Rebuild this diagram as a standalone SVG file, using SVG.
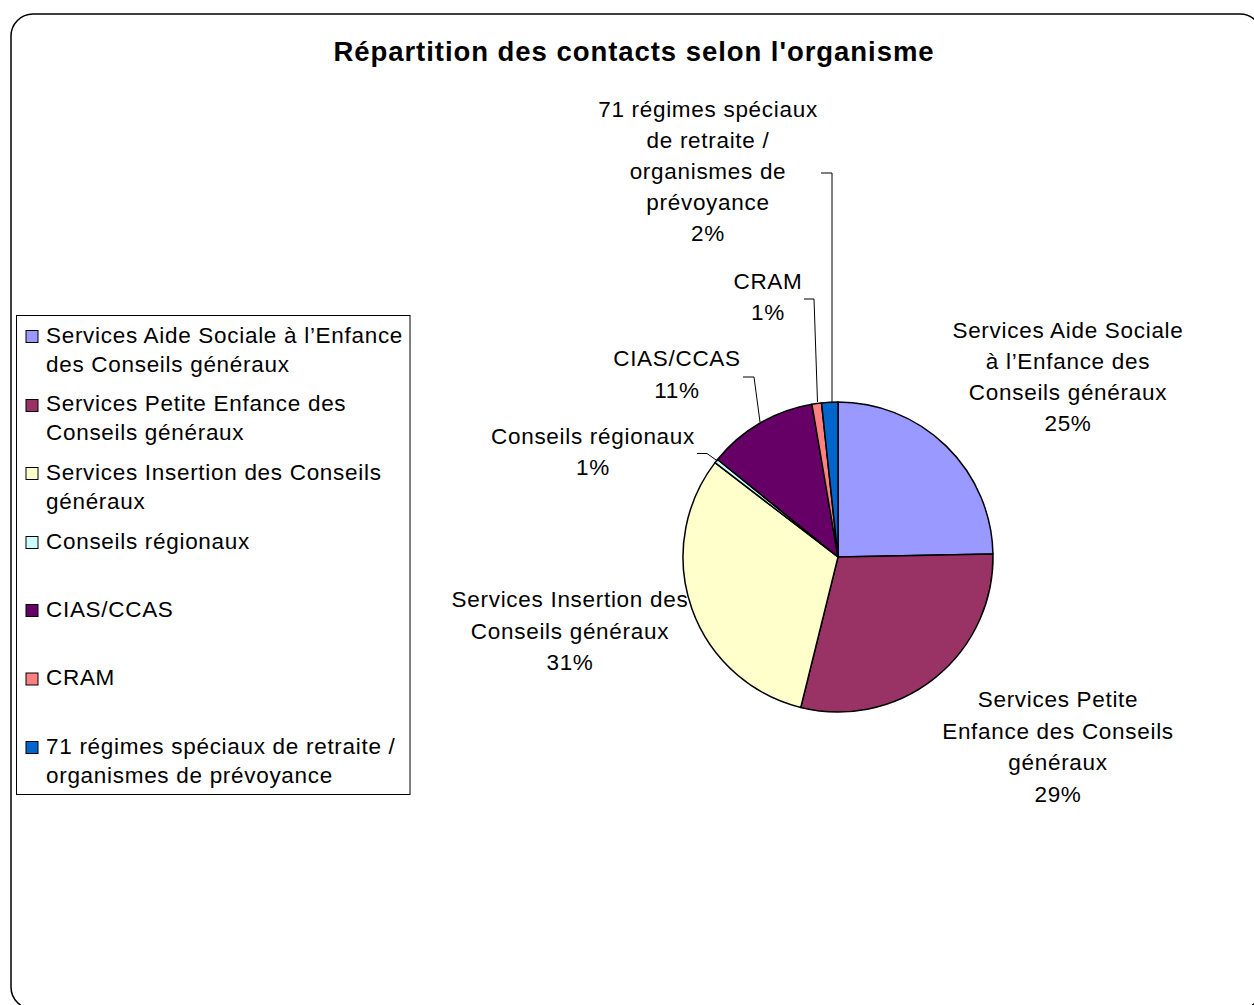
<svg xmlns="http://www.w3.org/2000/svg" width="1254" height="1005" viewBox="0 0 1254 1005">
<style>
text{font-family:"Liberation Sans",Arial,sans-serif;fill:#000}
.t{font-size:27.5px;font-weight:bold;letter-spacing:0.95px;text-anchor:middle}
.l{font-size:22.5px;letter-spacing:0.7px;text-anchor:middle}
.g{font-size:22.5px;letter-spacing:0.7px}
.s{stroke:#000;stroke-width:1.5;stroke-linejoin:round}
.m{stroke:#000;stroke-width:1}
.c{fill:none;stroke:#000;stroke-width:1}
</style>
<rect x="0" y="0" width="1254" height="1005" fill="#fff"/>
<rect x="11" y="14" width="1251" height="995" rx="22" ry="22" fill="#fff" stroke="#000" stroke-width="1.5"/>
<text class="t" x="634" y="61">Répartition des contacts selon l'organisme</text>

<g id="pie">
<path id="slice-aide" class="s" fill="#9999FF" d="M838,557 L838,402 A155,155 0 0,1 992.97,554 Z"/>
<path id="slice-petite" class="s" fill="#993366" d="M838,557 L992.97,554 A155,155 0 0,1 800.76,707.46 Z"/>
<path id="slice-insertion" class="s" fill="#FFFFCC" d="M838,557 L800.76,707.46 A155,155 0 0,1 715.03,462.64 Z"/>
<path id="slice-regionaux" class="s" fill="#CCFFFF" d="M838,557 L715.03,462.64 A155,155 0 0,1 717.54,459.46 Z"/>
<path id="slice-cias" class="s" fill="#660066" d="M838,557 L717.54,459.46 A155,155 0 0,1 811.88,404.22 Z"/>
<path id="slice-cram" class="s" fill="#FF8080" d="M838,557 L811.88,404.22 A155,155 0 0,1 821.53,402.88 Z"/>
<path id="slice-regimes" class="s" fill="#0066CC" d="M838,557 L821.53,402.88 A155,155 0 0,1 838,402 Z"/>
</g>

<g id="connectors">
<polyline class="c" points="821,173 832,173 832,402"/>
<polyline class="c" points="804,299 814,299 817.5,402"/>
<polyline class="c" points="743,377 754,377 760,422"/>
<polyline class="c" points="697,453.5 707,453.5 717.5,461"/>
</g>

<g id="label-regimes">
<text class="l" x="708" y="116.5">71 régimes spéciaux</text>
<text class="l" x="708" y="147.5">de retraite /</text>
<text class="l" x="708" y="178.5">organismes de</text>
<text class="l" x="708" y="209.5">prévoyance</text>
<text class="l" x="708" y="240.5">2%</text>
</g>
<g id="label-cram">
<text class="l" x="768" y="288.5">CRAM</text>
<text class="l" x="768" y="320">1%</text>
</g>
<g id="label-cias">
<text class="l" x="677" y="366">CIAS/CCAS</text>
<text class="l" x="677" y="397.5">11%</text>
</g>
<g id="label-regionaux">
<text class="l" x="593" y="444">Conseils régionaux</text>
<text class="l" x="593" y="475">1%</text>
</g>
<g id="label-aide">
<text class="l" x="1068" y="337.5">Services Aide Sociale</text>
<text class="l" x="1068" y="368.5">à l’Enfance des</text>
<text class="l" x="1068" y="399.5">Conseils généraux</text>
<text class="l" x="1068" y="430.5">25%</text>
</g>
<g id="label-insertion">
<text class="l" x="570" y="607">Services Insertion des</text>
<text class="l" x="570" y="638.5">Conseils généraux</text>
<text class="l" x="570" y="670">31%</text>
</g>
<g id="label-petite">
<text class="l" x="1058" y="707">Services Petite</text>
<text class="l" x="1058" y="738.5">Enfance des Conseils</text>
<text class="l" x="1058" y="770">généraux</text>
<text class="l" x="1058" y="801.5">29%</text>
</g>

<g id="legend">
<rect x="16.5" y="315.5" width="393.5" height="479" fill="#fff" stroke="#000" stroke-width="1"/>
<rect class="m" x="26" y="330.5" width="12" height="12" fill="#9999FF"/>
<text class="g" x="46" y="343">Services Aide Sociale à l’Enfance</text>
<text class="g" x="46" y="371.5">des Conseils généraux</text>
<rect class="m" x="26" y="399.5" width="12" height="12" fill="#993366"/>
<text class="g" x="46" y="411">Services Petite Enfance des</text>
<text class="g" x="46" y="440">Conseils généraux</text>
<rect class="m" x="26" y="467.5" width="12" height="12" fill="#FFFFCC"/>
<text class="g" x="46" y="480">Services Insertion des Conseils</text>
<text class="g" x="46" y="508.5">généraux</text>
<rect class="m" x="26" y="536.5" width="12" height="12" fill="#CCFFFF"/>
<text class="g" x="46" y="548.5">Conseils régionaux</text>
<rect class="m" x="26" y="604.5" width="12" height="12" fill="#660066"/>
<text class="g" x="46" y="617">CIAS/CCAS</text>
<rect class="m" x="26" y="673" width="12" height="12" fill="#FF8080"/>
<text class="g" x="46" y="685">CRAM</text>
<rect class="m" x="26" y="741.5" width="12" height="12" fill="#0066CC"/>
<text class="g" x="46" y="754">71 régimes spéciaux de retraite /</text>
<text class="g" x="46" y="782.5">organismes de prévoyance</text>
</g>
</svg>
